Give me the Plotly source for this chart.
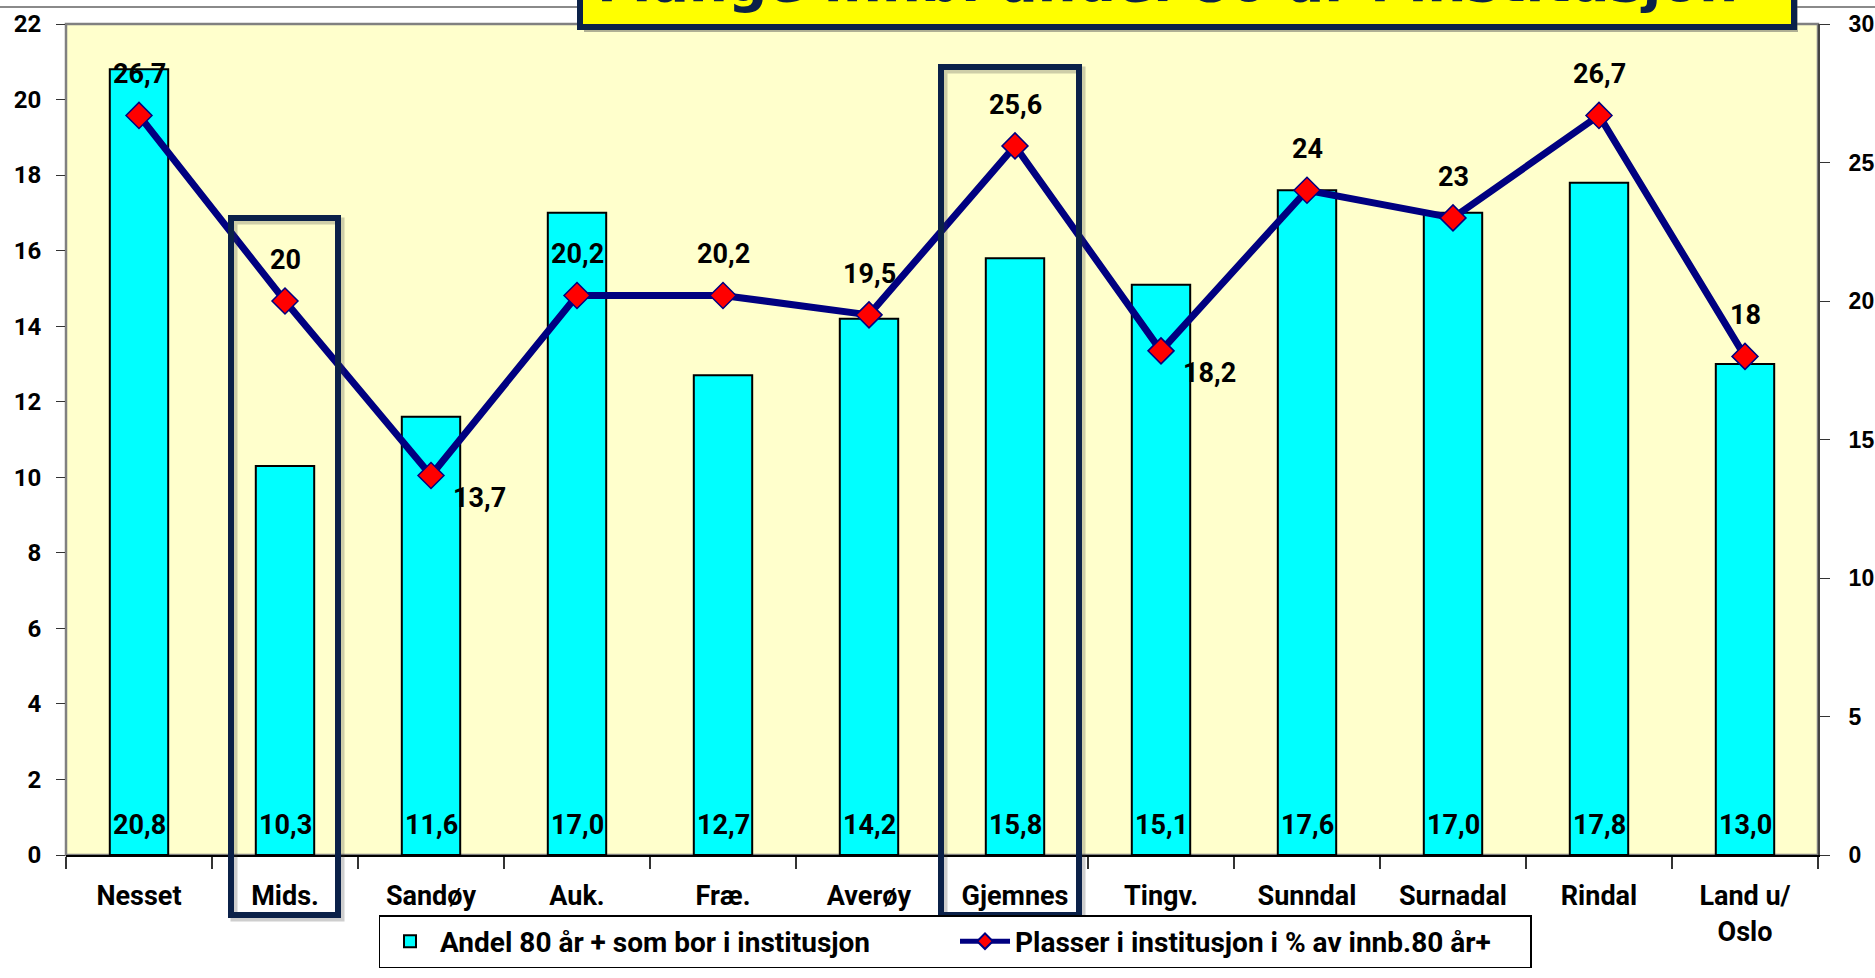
import plotly.graph_objects as go

# ---- data ----
categories = ["Nesset", "Mids.", "Sandøy", "Auk.", "Fræ.", "Averøy", "Gjemnes",
              "Tingv.", "Sunndal", "Surnadal", "Rindal", "Land u/<br>Oslo"]
andel = [20.8, 10.3, 11.6, 17.0, 12.7, 14.2, 15.8, 15.1, 17.6, 17.0, 17.8, 13.0]
plasser = [26.7, 20, 13.7, 20.2, 20.2, 19.5, 25.6, 18.2, 24, 23, 26.7, 18]
plasser_labels = ["26,7", "20", "13,7", "20,2", "20,2", "19,5", "25,6", "18,2",
                  "24", "23", "26,7", "18"]
andel_labels = [f"{v:.1f}".replace(".", ",") for v in andel]
left_ticks = list(range(0, 23, 2))
right_ticks = list(range(0, 31, 5))
bar_name = "Andel 80 år + som bor i institusjon"
line_name = "Plasser i institusjon i % av innb.80 år+"
title_text = "Mange innb. andel 80 år i institusjon"
highlighted = ["Mids.", "Gjemnes"]
labels_below_right = ["Sandøy", "Tingv."]

# ---- style ----
NARROW = "Roboto, Liberation Sans, sans-serif"
WIDE = "Liberation Sans, Arial, sans-serif"
NAVY_BOX = "#0b2149"

W, H = 1875, 978
ML, MR, MT, MB = 66, 57, 24, 123
PW, PH = W - ML - MR, H - MT - MB


def px_x(X):
    return (X - ML) / PW


def px_y(Y):
    return (H - MB - Y) / PH


fig = go.Figure()
fig.add_trace(go.Bar(
    x=categories, y=andel, name=bar_name,
    marker=dict(color="#00FFFF", line=dict(color="black", width=2)),
    width=0.4, yaxis="y",
))
fig.add_trace(go.Scatter(
    x=categories, y=plasser, name=line_name, mode="lines+markers",
    line=dict(color="#000080", width=7),
    marker=dict(symbol="diamond", size=20, color="#FF0000",
                line=dict(color="#000080", width=1.5)),
    yaxis="y2",
))

LBL = dict(family=NARROW, size=27, color="black", weight="bold")
annotations = []
for c, v in zip(categories, andel_labels):
    annotations.append(dict(x=c, y=0, xref="x", yref="y", text=v,
                            showarrow=False, yshift=30, yanchor="middle", font=LBL))
for c, val, lab in zip(categories, plasser, plasser_labels):
    if c in labels_below_right:
        xs, ys = 48, -22
    else:
        xs, ys = 0, 41
    annotations.append(dict(x=c, y=val, xref="x", yref="y2", text=lab,
                            showarrow=False, xshift=xs, yshift=ys, yanchor="middle",
                            font=LBL))
# title (cut off by the page top, as in the reference)
annotations.append(dict(x=px_x((597 + 1737) / 2), y=px_y(15), xref="paper", yref="paper",
                        text=title_text, showarrow=False, yanchor="bottom",
                        xanchor="center", borderpad=0,
                        font=dict(family="DejaVu Sans", size=55, color=NAVY_BOX,
                                  weight="bold")))

shapes = []
# thin slide line across top
shapes.append(dict(type="line", xref="paper", yref="paper", x0=px_x(0), x1=px_x(W),
                   y0=px_y(7), y1=px_y(7), line=dict(color="#8a8a8a", width=2), layer="above"))
# plot border
shapes.append(dict(type="rect", xref="paper", yref="paper", x0=0, x1=1, y0=0, y1=1,
                   line=dict(color="#808080", width=2.5), layer="below"))
# title box shadow + box
shapes.append(dict(type="rect", xref="paper", yref="paper", x0=px_x(584), x1=px_x(1798),
                   y0=px_y(32), y1=px_y(-60), fillcolor="rgba(80,80,80,0.45)",
                   line=dict(width=0), layer="above"))
shapes.append(dict(type="rect", xref="paper", yref="paper", x0=px_x(580), x1=px_x(1794),
                   y0=px_y(27), y1=px_y(-60), fillcolor="#FFFF00",
                   line=dict(color=NAVY_BOX, width=6), layer="above"))
# highlight boxes
boxes = {"Mids.": (231, 338, 218), "Gjemnes": (941, 1079, 67)}
for name in highlighted:
    x0, x1, y1 = boxes[name]
    shapes.append(dict(type="rect", xref="paper", yref="paper",
                       x0=px_x(x0 + 3), x1=px_x(x1 + 3), y0=px_y(918), y1=px_y(y1 + 3),
                       line=dict(color="rgba(60,60,60,0.25)", width=7), layer="above"))
    shapes.append(dict(type="rect", xref="paper", yref="paper",
                       x0=px_x(x0), x1=px_x(x1), y0=px_y(915), y1=px_y(y1),
                       line=dict(color=NAVY_BOX, width=6), layer="above"))

fig.update_layout(
    width=W, height=H,
    margin=dict(l=ML, r=MR, t=MT, b=MB, autoexpand=False),
    paper_bgcolor="white", plot_bgcolor="#FFFFCC",
    bargap=0.6, showlegend=True,
    legend=dict(orientation="h", x=px_x(955), xanchor="center", y=px_y(915), yanchor="top",
                bgcolor="white", bordercolor="black", borderwidth=1.5,
                font=dict(family=NARROW, size=28, color="black", weight="bold"),
                traceorder="normal", itemwidth=50, itemsizing="constant",
                entrywidth=510),
    xaxis=dict(type="category", tickson="boundaries", ticks="outside", ticklen=12,
               tickcolor="#333", tickwidth=1.5, showline=True, linecolor="black", linewidth=2,
               showgrid=False, automargin=False,
               tickfont=dict(family=NARROW, size=27, color="black", weight="bold"),
               ticklabelstandoff=16, range=[-0.5, len(categories) - 0.5]),
    yaxis=dict(range=[0, 22], tickvals=left_ticks, ticks="outside", ticklen=9,
               tickcolor="#333", showgrid=False, zeroline=False, showline=False,
               automargin=False,
               tickfont=dict(family=NARROW, size=24, color="black", weight="bold"),
               ticklabelstandoff=10),
    yaxis2=dict(range=[0, 30], tickvals=right_ticks, overlaying="y", side="right",
                ticks="outside", ticklen=10, tickcolor="#333", showgrid=False, zeroline=False,
                showline=True, linecolor="#444", linewidth=2, automargin=False,
                tickfont=dict(family=WIDE, size=23, color="black", weight="bold"),
                ticklabelstandoff=14),
    annotations=annotations, shapes=shapes,
)

fig.write_html("out.html", config={"displayModeBar": False},
               post_script="document.body.style.margin='0';document.body.style.overflow='hidden';")
